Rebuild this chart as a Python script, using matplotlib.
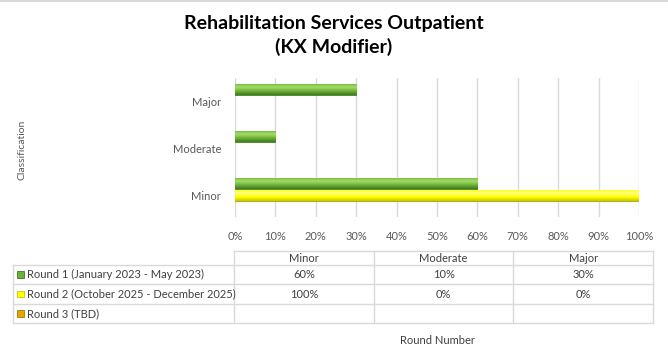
import matplotlib
matplotlib.use("Agg")
import matplotlib.pyplot as plt
import numpy as np
from matplotlib.colors import LinearSegmentedColormap
from matplotlib.patches import Rectangle

plt.rcParams['font.family'] = ['Lato', 'DejaVu Sans']

categories = ["Minor", "Moderate", "Major"]
series_names = ["Round 1 (January 2023 - May 2023)",
                "Round 2 (October 2025 - December 2025)",
                "Round 3 (TBD)"]
round1 = [60, 10, 30]
round2 = [100, 0, 0]
round3 = [None, None, None]
series_values = [round1, round2, round3]
xticks = [0, 10, 20, 30, 40, 50, 60, 70, 80, 90, 100]
xtick_labels = [f"{t}%" for t in xticks]

grad_colors = [
    ("#A6DC68", "#6DB23A", "#3E7A1D", "#4A7F23"),
    ("#FFFF80", "#FFFF00", "#C9C400", "#A8A000"),
    ("#F5D040", "#E0A800", "#A87A00", "#A07000"),
]

W, H = 668, 364
fig = plt.figure(figsize=(W / 100, H / 100), dpi=100)
fig.patch.set_facecolor("white")

YLIM = (-0.455, 2.489)
ax = fig.add_axes([235 / W, 1 - 217 / H, (639 - 235) / W, (217 - 78) / H])
ax.set_xlim(0, 100)
ax.set_ylim(*YLIM)
ax.set_xticks(xticks)
ax.set_xticklabels(xtick_labels)
ax.set_yticks(range(len(categories)))
ax.set_yticklabels(categories)
ax.grid(axis="x", color="#D9D9D9", linewidth=1.0)
ax.set_axisbelow(True)
for s in ax.spines.values():
    s.set_visible(False)
ax.tick_params(axis="both", length=0, colors="#595959", labelsize=8)
ax.tick_params(axis="x", pad=10)
ax.tick_params(axis="y", pad=10)

step = 0.254
bh = 0.235
offsets = [step, 0, -step]
y = np.arange(len(categories))
for i, vals in enumerate(series_values):
    v = [0 if x is None else x for x in vals]
    top, mid, bot, edge = grad_colors[i]
    cmap = LinearSegmentedColormap.from_list("g%d" % i, [bot, mid, top, mid])
    bars = ax.barh(y + offsets[i], v, height=bh, color=mid, edgecolor=edge,
                   linewidth=0.6, zorder=3)
    grad = np.linspace(0, 1, 64).reshape(-1, 1)
    for b in bars:
        if b.get_width() <= 0:
            b.set_linewidth(0)
            b.set_visible(False)
            continue
        x0, y0 = b.get_x(), b.get_y()
        im = ax.imshow(grad, cmap=cmap, aspect="auto", origin="lower",
                       extent=[x0, x0 + b.get_width(), y0, y0 + b.get_height()],
                       zorder=3.5, interpolation="bicubic")
        im.set_clip_path(b)
ax.set_xlim(0, 100)
ax.set_ylim(*YLIM)

fig.text(22 / W, 1 - 150 / H, "Classification", rotation=90, ha="center",
         va="center", fontsize=7.5, color="#595959")

fig.text(334 / W, 1 - 24 / H, "Rehabilitation Services Outpatient", ha="center",
         va="center", fontsize=14, fontweight="bold", color="black")
fig.text(334 / W, 1 - 47 / H, "(KX Modifier)", ha="center", va="center",
         fontsize=14, fontweight="bold", color="black")

# data table
ov = fig.add_axes([0, 0, 1, 1])
ov.set_xlim(0, W)
ov.set_ylim(H, 0)
ov.axis("off")
ov.patch.set_alpha(0)
lc = "#D9D9D9"
col_edges = [234, 373.7, 513.3, 653]
row_edges = [251, 265, 284.3, 304, 323]
left = 13
ov.plot([col_edges[0], col_edges[-1]], [row_edges[0]] * 2, color=lc, lw=1)
for r in row_edges[1:]:
    ov.plot([left, col_edges[-1]], [r, r], color=lc, lw=1)
ov.plot([left, left], [row_edges[1], row_edges[-1]], color=lc, lw=1)
for c in col_edges:
    ov.plot([c, c], [row_edges[0], row_edges[-1]], color=lc, lw=1)

tc = "#404040"
fs = 8
for j, cat in enumerate(categories):
    cx = (col_edges[j] + col_edges[j + 1]) / 2
    ov.text(cx, (row_edges[0] + row_edges[1]) / 2, cat, ha="center",
            va="center", fontsize=fs, color=tc)
for i, name in enumerate(series_names):
    cy = (row_edges[i + 1] + row_edges[i + 2]) / 2
    top, mid, bot, edge = grad_colors[i]
    ov.add_patch(Rectangle((17, cy - 3.2), 6.5, 6.5, facecolor=mid,
                           edgecolor=bot, lw=0.6))
    ov.text(27, cy, name, ha="left", va="center", fontsize=fs, color=tc)
    for j, v in enumerate(series_values[i]):
        if v is None:
            continue
        cx = (col_edges[j] + col_edges[j + 1]) / 2
        ov.text(cx, cy, f"{v}%", ha="center", va="center", fontsize=fs,
                color=tc)

ov.text(437, 341, "Round Number", ha="center", va="center", fontsize=fs,
        color=tc)
ov.plot([0, W], [0.5, 0.5], color="#D9D9D9", lw=1.5)

fig.savefig("out.png", dpi=100, facecolor="white")
